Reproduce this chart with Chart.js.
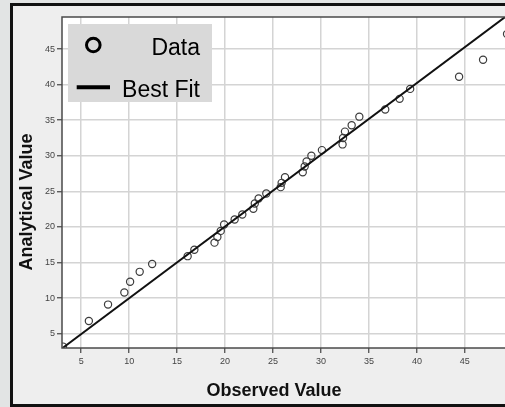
<!DOCTYPE html>
<html>
<head>
<meta charset="utf-8">
<title>Observed vs Analytical</title>
<script src="https://cdn.jsdelivr.net/npm/chart.js@4.4.1/dist/chart.umd.min.js"></script>
<style>
  html, body { margin: 0; padding: 0; width: 505px; height: 407px; overflow: hidden; background: #e2e4e4; }
  #frame { position: absolute; left: 10px; top: 3px; width: 540px; height: 398px; border: 3px solid #111; background: #eeeeee; }
  #frame canvas { display: block; }
</style>
</head>
<body>
<div id="frame"><canvas id="fit-chart" width="540" height="398"></canvas></div>
<script>
(function () {
    'use strict';

    /* ── Data ── */
    var observed   = [3.1, 5.8, 7.8, 9.5, 10.1, 11.1, 12.4, 16.1, 16.8, 18.9, 19.2, 19.55, 19.9,
                      21.0, 21.8, 22.95, 23.1, 23.5, 24.3, 25.8, 25.9, 26.25, 28.1, 28.3, 28.5,
                      29.0, 30.1, 32.25, 32.3, 32.5, 33.2, 34.0, 36.7, 38.2, 39.3, 44.4, 46.9, 49.4];
    var analytical = [3.2, 6.8, 9.1, 10.8, 12.3, 13.7, 14.8, 15.9, 16.8, 17.8, 18.6, 19.45, 20.35,
                      21.05, 21.75, 22.55, 23.3, 24.0, 24.7, 25.6, 26.2, 27.0, 27.7, 28.5, 29.2,
                      30.0, 30.8, 31.6, 32.5, 33.4, 34.3, 35.5, 36.5, 38.0, 39.4, 41.1, 43.5, 47.1];
    var fitX = [3, 49.5];
    var fitY = [2.94, 49.8];

    var axisMin  = 3;
    var axisMax  = 49.5;
    var tickStep = 5;

    var seriesLabels = ['Data', 'Best Fit'];
    var xTitle = 'Observed Value';
    var yTitle = 'Analytical Value';

    var font = '"Liberation Sans", Arial, sans-serif';

    function toPoints(xs, ys) {
        return xs.map(function (x, i) { return { x: x, y: ys[i] }; });
    }

    /* ── White plot panel, frame, titles and the in-plot legend ── */
    var decor = {
        id: 'decor',
        beforeDraw: function (chart) {
            var a = chart.chartArea, ctx = chart.ctx;
            ctx.save();
            ctx.fillStyle = '#ffffff';
            ctx.fillRect(a.left, a.top, a.right - a.left, a.bottom - a.top);
            ctx.restore();
        },
        afterDraw: function (chart) {
            var a = chart.chartArea, ctx = chart.ctx;
            var sets = chart.data.datasets;
            ctx.save();

            ctx.strokeStyle = '#4a4a4a';
            ctx.lineWidth = 1.5;
            ctx.strokeRect(a.left, a.top, a.right - a.left, a.bottom - a.top);

            // axis titles
            ctx.fillStyle = '#111';
            ctx.font = 'bold 18px ' + font;
            ctx.textAlign = 'center';
            ctx.textBaseline = 'middle';
            ctx.fillText(xTitle, 261, 385.5);
            ctx.save();
            ctx.translate(14, 196);
            ctx.rotate(-Math.PI / 2);
            ctx.fillText(yTitle, 0, 0);
            ctx.restore();

            // legend box
            ctx.fillStyle = '#d9d9d9';
            ctx.fillRect(55, 18, 144, 78);

            ctx.strokeStyle = '#000';
            ctx.lineWidth = 3;
            ctx.beginPath();
            ctx.arc(80.3, 39, 6.8, 0, Math.PI * 2);
            ctx.stroke();

            ctx.lineWidth = 4;
            ctx.beginPath();
            ctx.moveTo(63.7, 81.3);
            ctx.lineTo(97, 81.3);
            ctx.stroke();

            ctx.fillStyle = '#000';
            ctx.font = '23px ' + font;
            ctx.textAlign = 'right';
            ctx.textBaseline = 'alphabetic';
            ctx.fillText(sets[0].label, 187, 49);
            ctx.fillText(sets[1].label, 187, 90.7);

            ctx.restore();
        }
    };

    var tickFont = { family: font, size: 9 };

    new Chart(document.getElementById('fit-chart'), {
        type: 'scatter',
        data: {
            datasets: [
                {
                    label: seriesLabels[0],
                    data: toPoints(observed, analytical),
                    pointStyle: 'circle',
                    pointRadius: 3.6,
                    borderWidth: 1.2,
                    borderColor: '#3c3c3c',
                    backgroundColor: 'rgba(0,0,0,0)',
                    order: 2
                },
                {
                    type: 'line',
                    label: seriesLabels[1],
                    data: toPoints(fitX, fitY),
                    borderColor: '#111',
                    borderWidth: 2,
                    pointRadius: 0,
                    fill: false,
                    order: 1
                }
            ]
        },
        options: {
            responsive: false,
            animation: false,
            events: [],
            layout: { padding: { left: 0, top: 11, right: 45, bottom: 0 } },
            plugins: {
                legend: { display: false },
                tooltip: { enabled: false }
            },
            scales: {
                x: {
                    type: 'linear',
                    min: axisMin,
                    max: axisMax,
                    afterFit: function (scale) { scale.height = 56; },
                    grid: { color: '#d4d4d4', lineWidth: 1.5, tickColor: '#444', tickLength: 5, tickWidth: 1.2 },
                    border: { display: false },
                    ticks: { stepSize: tickStep, includeBounds: false, font: tickFont, color: '#444', padding: 3, maxRotation: 0 }
                },
                y: {
                    type: 'linear',
                    min: axisMin,
                    max: axisMax,
                    afterFit: function (scale) { scale.width = 49; },
                    grid: { color: '#d4d4d4', lineWidth: 1.5, tickColor: '#444', tickLength: 5, tickWidth: 1.2 },
                    border: { display: false },
                    ticks: { stepSize: tickStep, includeBounds: false, font: tickFont, color: '#444', padding: 2 }
                }
            }
        },
        plugins: [decor]
    });
})();
</script>
</body>
</html>
